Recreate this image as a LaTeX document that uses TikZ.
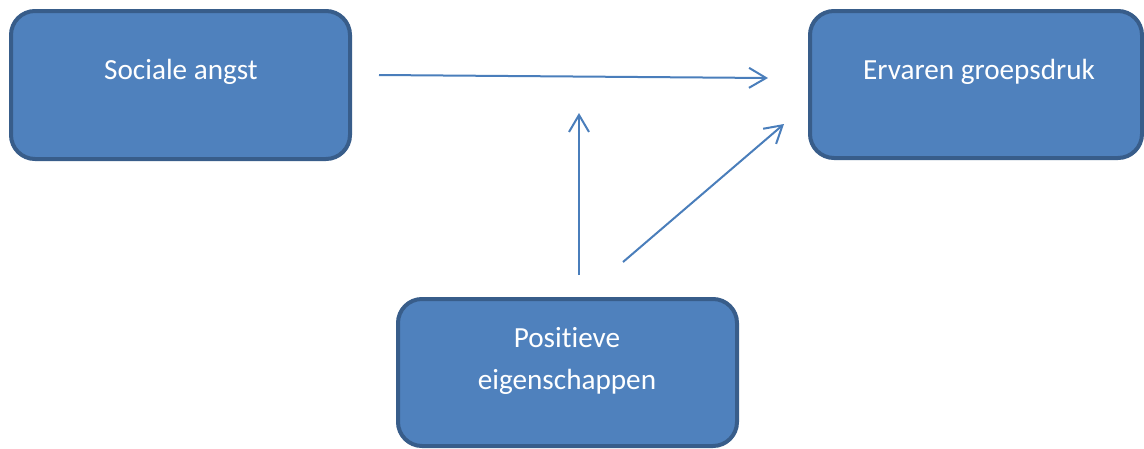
\documentclass[tikz,border=0pt]{standalone}
\usepackage{fontspec}
\setmainfont{Carlito}[Ligatures=NoCommon]
\usetikzlibrary{arrows.meta}
\definecolor{boxfill}{HTML}{4F81BD}
\definecolor{boxline}{HTML}{385D8A}
\definecolor{arrowc}{HTML}{4A7EBB}
\tikzset{
  box/.style={draw=boxline, fill=boxfill, line width=4pt, rounded corners=24pt, inner sep=0pt},
  lbl/.style={text=white, font=\fontsize{29.2}{42}\selectfont, align=center, inner sep=0pt},
  conn/.style={draw=arrowc, line width=2pt, -{Straight Barb[length=17pt,width=20pt,line width=2pt]}}
}
\begin{document}
\begin{tikzpicture}[x=1pt,y=-1pt]
\useasboundingbox (0,0) rectangle (1144,448);
\node[box, minimum width=339pt, minimum height=148pt] (sa) at (180.5,85) {};
\node[box, minimum width=332pt, minimum height=147pt] (eg) at (976,84.5) {};
\node[box, minimum width=339pt, minimum height=147pt] (pe) at (567.5,372.5) {};
\node[lbl, anchor=base] (tsa) at (181,79) {Sociale angst};
\node[lbl, anchor=base] (teg) at (979,79) {Ervaren groepsdruk};
\node[lbl, anchor=base] (tpe1) at (567,347) {Positieve};
\node[lbl, anchor=base] (tpe2) at (567,389) {eigenschappen};
\coordinate (a1s) at (379,75);
\coordinate (a1e) at (768,78);
\coordinate (a2s) at (579,275);
\coordinate (a2e) at (579,113);
\coordinate (a3s) at (623,262);
\coordinate (a3e) at (784,124);
\draw[conn] (a1s) -- (a1e);
\draw[conn] (a2s) -- (a2e);
\draw[conn] (a3s) -- (a3e);
\end{tikzpicture}
\end{document}
